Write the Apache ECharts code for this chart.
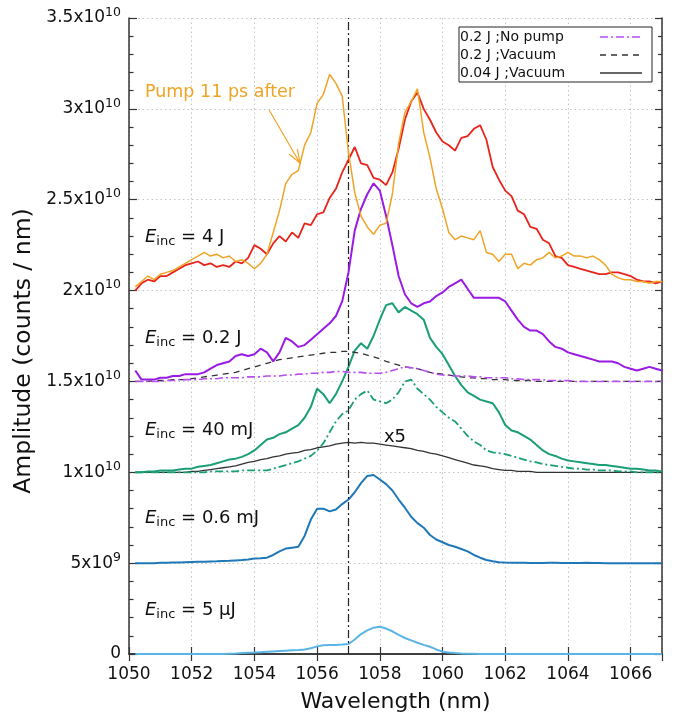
<!DOCTYPE html>
<html><head><meta charset="utf-8">
<script src="https://cdn.jsdelivr.net/npm/echarts@6/dist/echarts.min.js"></script>
<style>html,body{margin:0;padding:0;background:#fff}#c{width:678px;height:719px}</style>
</head><body><div id="c"></div>
<script>
// ---------------- data (amplitude values in units of 1e9 counts/nm) ----------------
const wavelength = [1050.2,1050.4,1050.6,1050.8,1051.0,1051.2,1051.4,1051.6,1051.8,1052.0,
1052.2,1052.4,1052.6,1052.8,1053.0,1053.2,1053.4,1053.6,1053.8,1054.0,
1054.2,1054.4,1054.6,1054.8,1055.0,1055.2,1055.4,1055.6,1055.8,1056.0,
1056.2,1056.4,1056.6,1056.8,1057.0,1057.2,1057.4,1057.6,1057.8,1058.0,
1058.2,1058.4,1058.6,1058.8,1059.0,1059.2,1059.4,1059.6,1059.8,1060.0,
1060.2,1060.4,1060.6,1060.8,1061.0,1061.2,1061.4,1061.6,1061.8,1062.0,
1062.2,1062.4,1062.6,1062.8,1063.0,1063.2,1063.4,1063.6,1063.8,1064.0,
1064.2,1064.4,1064.6,1064.8,1065.0,1065.2,1065.4,1065.6,1065.8,1066.0,
1066.2,1066.4,1066.6,1066.8,1067.0];

const pump11ps = [20.2,20.5,20.8,20.6,20.9,21.0,21.1,21.3,21.5,21.7,
21.9,22.1,21.9,22.0,21.8,21.9,21.6,21.7,21.5,21.2,
21.5,22.0,23.2,24.4,25.9,26.4,26.6,28.0,28.7,30.3,
30.8,31.9,31.4,30.7,27.6,25.4,24.1,23.5,23.1,23.6,
23.7,25.3,28.1,29.8,30.4,31.1,28.7,27.3,25.6,24.5,
23.2,22.8,23.0,22.9,22.8,23.3,22.1,22.0,21.6,22.0,
22.0,21.2,21.5,21.4,21.7,21.8,22.1,21.8,21.9,22.1,
21.9,21.9,21.8,21.9,21.7,21.4,20.9,20.7,20.6,20.6,
20.5,20.5,20.4,20.5,20.5];

const e4J = [20.0,20.4,20.6,20.5,20.8,20.8,21.0,21.2,21.4,21.5,
21.6,21.4,21.5,21.3,21.4,21.3,21.6,21.5,21.8,22.5,
22.3,22.0,22.6,23.0,22.7,23.2,22.9,23.7,23.6,24.2,
24.3,25.1,25.6,26.5,27.2,27.9,27.0,26.9,26.2,26.1,
25.8,26.5,27.8,29.4,30.4,30.9,30.0,29.4,28.7,28.2,
28.0,27.7,28.4,28.5,28.9,29.1,28.3,26.8,26.1,25.5,
25.2,24.4,24.2,23.5,23.4,22.8,22.6,21.9,21.8,21.4,
21.3,21.2,21.1,21.0,20.9,20.9,21.0,21.0,20.9,20.8,
20.6,20.5,20.5,20.4,20.5];

const e02J = [15.6,15.1,15.1,15.1,15.2,15.2,15.3,15.3,15.4,15.4,
15.4,15.5,15.7,15.9,16.0,16.1,16.4,16.5,16.4,16.5,
16.8,16.6,16.1,16.6,17.4,17.2,16.9,17.0,17.3,17.6,
17.9,18.2,18.6,19.4,21.0,23.3,24.5,25.3,25.9,25.5,
24.1,22.5,20.8,19.8,19.3,19.1,19.3,19.4,19.7,19.9,
20.2,20.4,20.6,20.1,19.6,19.6,19.6,19.6,19.6,19.4,
18.9,18.4,18.0,17.8,17.8,17.6,17.2,16.9,16.8,16.6,
16.5,16.4,16.3,16.2,16.1,16.1,16.1,16.0,15.8,15.7,
15.6,15.7,15.8,15.7,15.6];

const e02JNoPump = [15.0,15.0,15.0,15.0,15.0,15.05,15.05,15.1,15.1,15.1,
15.1,15.15,15.15,15.15,15.2,15.2,15.2,15.2,15.25,15.25,
15.25,15.3,15.3,15.3,15.35,15.35,15.4,15.4,15.45,15.45,
15.5,15.5,15.55,15.55,15.5,15.5,15.5,15.45,15.45,15.45,
15.5,15.6,15.7,15.8,15.75,15.7,15.6,15.5,15.4,15.35,
15.35,15.3,15.3,15.3,15.25,15.25,15.2,15.2,15.2,15.2,
15.15,15.15,15.1,15.1,15.1,15.1,15.05,15.05,15.05,15.05,
15.0,15.0,15.0,15.0,15.0,15.0,15.0,15.0,15.0,15.0,
15.0,15.0,15.0,15.0,15.0];

const e02JVacuum = [15.0,15.0,15.0,15.05,15.05,15.05,15.1,15.1,15.1,15.15,
15.2,15.25,15.3,15.35,15.4,15.45,15.5,15.6,15.7,15.8,
15.9,16.0,16.1,16.2,16.25,16.3,16.35,16.4,16.45,16.5,
16.55,16.6,16.6,16.65,16.65,16.6,16.55,16.45,16.35,16.25,
16.1,16.0,15.9,15.8,15.75,15.7,15.6,15.5,15.45,15.4,
15.35,15.3,15.25,15.2,15.2,15.15,15.15,15.1,15.1,15.1,
15.05,15.05,15.05,15.05,15.0,15.0,15.0,15.0,15.0,15.0,
15.0,15.0,15.0,15.0,15.0,15.0,15.0,15.0,15.0,15.0,
15.0,15.0,15.0,15.0,15.0];

const e40mJ = [10.0,10.0,10.05,10.05,10.1,10.1,10.1,10.15,10.2,10.2,
10.3,10.35,10.4,10.5,10.6,10.7,10.75,10.85,11.0,11.2,
11.5,11.8,11.9,12.1,12.2,12.4,12.6,13.0,13.6,14.6,
14.3,13.8,14.3,15.0,15.8,16.7,17.1,16.8,17.5,18.4,
19.2,19.3,18.8,19.1,18.9,18.7,18.4,17.4,16.9,16.5,
15.9,15.3,14.8,14.4,14.2,14.0,13.9,13.8,13.3,12.6,
12.3,12.2,12.0,11.8,11.5,11.2,11.0,10.9,10.75,10.65,
10.6,10.55,10.5,10.45,10.4,10.4,10.35,10.3,10.25,10.2,
10.2,10.15,10.1,10.1,10.05];

const e40mJNoPump = [10.0,10.0,10.0,10.0,10.0,10.0,10.0,10.0,10.0,10.0,
10.0,10.0,10.05,10.05,10.05,10.05,10.05,10.1,10.1,10.1,
10.1,10.1,10.2,10.3,10.4,10.5,10.6,10.75,10.9,11.2,
11.6,12.2,12.8,13.2,13.4,14.0,14.3,14.5,14.0,13.9,
13.8,14.0,14.4,15.0,15.1,14.6,14.3,14.0,13.6,13.3,
13.0,12.8,12.4,12.0,11.7,11.5,11.2,11.1,11.05,11.0,
10.9,10.8,10.7,10.6,10.55,10.45,10.4,10.35,10.3,10.25,
10.2,10.2,10.15,10.15,10.1,10.1,10.1,10.05,10.05,10.05,
10.0,10.0,10.0,10.0,10.0];

const e004JVacuumX5 = [10.0,10.0,10.0,10.0,10.0,10.0,10.0,10.0,10.0,10.05,
10.05,10.1,10.15,10.2,10.25,10.3,10.35,10.45,10.55,10.6,
10.7,10.75,10.85,10.9,11.0,11.05,11.1,11.2,11.25,11.35,
11.4,11.45,11.55,11.6,11.65,11.6,11.65,11.6,11.6,11.55,
11.5,11.45,11.4,11.35,11.3,11.2,11.15,11.05,11.0,10.9,
10.8,10.7,10.6,10.5,10.4,10.35,10.3,10.2,10.15,10.1,
10.1,10.05,10.05,10.05,10.0,10.0,10.0,10.0,10.0,10.0,
10.0,10.0,10.0,10.0,10.0,10.0,10.0,10.0,10.0,10.0,
10.0,10.0,10.0,10.0,10.0];

const e06mJ = [5.0,5.0,5.0,5.0,5.02,5.02,5.03,5.04,5.05,5.06,
5.07,5.08,5.09,5.1,5.12,5.13,5.15,5.17,5.2,5.25,
5.27,5.3,5.45,5.65,5.8,5.85,5.9,6.5,7.4,8.0,
8.0,7.85,7.95,8.25,8.5,8.9,9.4,9.8,9.85,9.6,
9.35,9.0,8.5,8.05,7.55,7.2,6.95,6.55,6.3,6.15,
6.0,5.9,5.78,5.65,5.45,5.3,5.17,5.1,5.05,5.03,
5.02,5.02,5.02,5.01,5.01,5.01,5.02,5.02,5.01,5.01,
5.01,5.01,5.02,5.01,5.01,5.0,5.0,5.0,5.0,5.0,
5.0,5.0,5.0,5.0,5.0];

const e5uJ = [0.0,0.0,0.0,0.0,0.0,0.0,0.0,0.0,0.0,0.0,
0.0,0.0,0.0,0.0,0.0,0.02,0.03,0.05,0.07,0.08,
0.1,0.12,0.14,0.16,0.18,0.2,0.22,0.25,0.32,0.42,
0.48,0.5,0.5,0.52,0.55,0.8,1.1,1.3,1.45,1.5,
1.4,1.25,1.05,0.88,0.75,0.62,0.5,0.4,0.25,0.13,
0.08,0.05,0.03,0.02,0.01,0,0,0,0,0,
0,0,0,0,0,0,0,0,0,0,
0,0,0,0,0,0,0,0,0,0,
0,0,0,0,0];

const referenceWavelength = 1057;
const yTickValues = [0, 5, 10, 15, 20, 25, 30, 35];
const yTickLabels = ['0', '5x10^9', '1x10^10', '1.5x10^10', '2x10^10', '2.5x10^10', '3x10^10', '3.5x10^10'];
const legendNames = ['0.2 J ;No pump', '0.2 J ;Vacuum', '0.04 J ;Vacuum'];
const energyLabels = ['4 J', '0.2 J', '40 mJ', '0.6 mJ', '5 μJ'];
const energyLabelY = [22.95, 17.36, 12.33, 7.46, 2.42];
const energyLabelX = 1050.51;
const pumpLabel = {text: 'Pump 11 ps after', x: 1050.51, y: 30.9};
const pumpArrow = {from: [1054.47, 29.94], to: [1055.45, 27.02]};
const x5Label = {text: 'x5', x: 1058.13, y: 11.94};

// ---------------- chart ----------------
const FONT = 'DejaVu Sans';
const chart = echarts.init(document.getElementById('c'), null, {renderer: 'canvas'});

function lineSeries(name, values, color, width, type, z) {
  return {
    name, type: 'line', z,
    data: wavelength.map((x, i) => [x, values[i]]),
    symbol: 'none', showSymbol: false, silent: true, animation: false,
    lineStyle: {color, width, type},
    itemStyle: {color},
    emphasis: {disabled: true}
  };
}

const COL = {
  orange: '#EFA425', red: '#E8241B', purple: '#9A1BE3', purpleDD: '#B84DF0',
  black: '#333333', green: '#1A9E76', blue: '#1E78B8', lightBlue: '#5AB4E6'
};
const DASHDOT = [8, 3, 2, 3];
const DASHED = [6, 5];

const series = [
  lineSeries('5 uJ', e5uJ, COL.lightBlue, 2, 'solid', 2),
  lineSeries('0.6 mJ', e06mJ, COL.blue, 2, 'solid', 2),
  lineSeries('0.04 J ;Vacuum', e004JVacuumX5, COL.black, 1.3, 'solid', 3),
  lineSeries('40 mJ no pump', e40mJNoPump, COL.green, 1.8, DASHDOT, 3),
  lineSeries('40 mJ', e40mJ, COL.green, 2, 'solid', 4),
  lineSeries('0.2 J ;Vacuum', e02JVacuum, COL.black, 1.3, DASHED, 4),
  lineSeries('0.2 J ;No pump', e02JNoPump, COL.purpleDD, 1.6, DASHDOT, 4),
  lineSeries('0.2 J', e02J, COL.purple, 2, 'solid', 5),
  lineSeries('4 J, pump 11 ps after', pump11ps, COL.orange, 1.5, 'solid', 6),
  lineSeries('4 J', e4J, COL.red, 1.8, 'solid', 5)
];
series[0].markLine = {
  silent: true, animation: false, symbol: ['none', 'none'],
  label: {show: false},
  lineStyle: {color: '#222', width: 1.2, type: DASHDOT},
  data: [{xAxis: referenceWavelength}]
};

function yLabel(v) {
  const idx = yTickValues.indexOf(Math.round(v));
  if (idx < 0) return '';
  const s = yTickLabels[idx];
  if (s.indexOf('^') < 0) return '{b|' + s + '}';
  const parts = s.split('^');
  return '{b|' + parts[0] + '}{s|' + parts[1] + '}';
}

const axisLineStyle = {color: '#333', width: 1.5};
const tickStyle = {color: '#333', width: 1.2};
const gridLine = {show: true, lineStyle: {color: '#c4c4c4', width: 1, type: [1.5, 3]}};

const option = {
  backgroundColor: '#fff',
  animation: false,
  grid: {left: 129, right: 16, top: 18, bottom: 65},
  xAxis: [{
    type: 'value', position: 'bottom', min: 1050, max: 1067, interval: 2,
    axisLine: {show: true, lineStyle: axisLineStyle},
    axisTick: {show: true, inside: true, length: 7, lineStyle: tickStyle},
    axisLabel: {fontFamily: FONT, fontSize: 17, color: '#111', margin: 12, showMaxLabel: false,
      formatter: v => String(v)},
    splitLine: gridLine,
    name: 'Wavelength (nm)', nameLocation: 'middle', nameGap: 37,
    nameTextStyle: {fontFamily: FONT, fontSize: 22, color: '#111'}
  }, {
    type: 'value', position: 'top', min: 1050, max: 1067, interval: 2,
    axisLine: {show: true, lineStyle: axisLineStyle},
    axisTick: {show: true, inside: true, length: 7, lineStyle: tickStyle},
    axisLabel: {show: false}, splitLine: {show: false}
  }],
  yAxis: [{
    type: 'value', position: 'left', min: 0, max: 35, interval: 5,
    axisLine: {show: true, lineStyle: axisLineStyle},
    axisTick: {show: true, inside: true, length: 8, lineStyle: tickStyle},
    minorTick: {show: true, splitNumber: 5, length: 4.5, lineStyle: tickStyle},
    axisLabel: {
      margin: 8, formatter: yLabel,
      rich: {
        b: {fontFamily: FONT, fontSize: 17, color: '#111'},
        s: {fontFamily: FONT, fontSize: 12.5, color: '#111', padding: [0, 0, 11, 0]}
      }
    },
    splitLine: gridLine,
    name: 'Amplitude (counts / nm)', nameLocation: 'middle', nameGap: 92,
    nameTextStyle: {fontFamily: FONT, fontSize: 23.5, color: '#111', padding: [0, 30, 0, 0]}
  }, {
    type: 'value', position: 'right', min: 0, max: 35, interval: 5,
    axisLine: {show: true, lineStyle: axisLineStyle},
    axisTick: {show: true, inside: true, length: 7, lineStyle: tickStyle},
    minorTick: {show: true, splitNumber: 5, length: 4, lineStyle: tickStyle},
    axisLabel: {show: false}, splitLine: {show: false}
  }],
  series
};
chart.setOption(option);

// ---------------- annotations placed through the axes ----------------
const P = (x, y) => chart.convertToPixel({xAxisIndex: 0, yAxisIndex: 0}, [x, y]);
const graphics = [];
energyLabels.forEach((t, i) => {
  const p = P(energyLabelX, energyLabelY[i]);
  graphics.push({
    type: 'text', x: p[0], y: p[1], z: 50, silent: true,
    style: {
      text: '{e|E}{s|inc}{t| = ' + t + '}',
      align: 'left', verticalAlign: 'middle', fill: '#111',
      rich: {
        e: {fontFamily: FONT, fontSize: 18, fontStyle: 'italic', fill: '#111'},
        s: {fontFamily: FONT, fontSize: 13, fill: '#111', padding: [9, 0, 0, 0]},
        t: {fontFamily: FONT, fontSize: 18, fill: '#111'}
      }
    }
  });
});
const pp = P(pumpLabel.x, pumpLabel.y);
graphics.push({type: 'text', x: pp[0], y: pp[1], z: 50, silent: true,
  style: {text: pumpLabel.text, fontFamily: FONT, fontSize: 17.5, fill: COL.orange, align: 'left', verticalAlign: 'middle'}});
const a0 = P(pumpArrow.from[0], pumpArrow.from[1]);
const a1 = P(pumpArrow.to[0], pumpArrow.to[1]);
const dx = a1[0] - a0[0], dy = a1[1] - a0[1];
const len = Math.hypot(dx, dy);
const ux = -dx / len, uy = -dy / len;
const head = 14, ang = 20 * Math.PI / 180;
const arm = s => [a1[0] + head * (ux * Math.cos(s * ang) - uy * Math.sin(s * ang)),
                  a1[1] + head * (ux * Math.sin(s * ang) + uy * Math.cos(s * ang))];
graphics.push({type: 'line', z: 50, silent: true, shape: {x1: a0[0], y1: a0[1], x2: a1[0], y2: a1[1]},
  style: {stroke: COL.orange, lineWidth: 1.2}});
graphics.push({type: 'polyline', z: 50, silent: true, shape: {points: [arm(1), a1, arm(-1)]},
  style: {stroke: COL.orange, lineWidth: 1.2, fill: null}});
const xp = P(x5Label.x, x5Label.y);
graphics.push({type: 'text', x: xp[0], y: xp[1], z: 50, silent: true,
  style: {text: x5Label.text, fontFamily: FONT, fontSize: 18, fill: '#111', align: 'left', verticalAlign: 'middle'}});

// key box (gnuplot style: text left, line sample right), styles taken from the series
const legendStyles = legendNames.map(n => series.find(s => s.name === n).lineStyle);
const box = {x: 459, y: 27, w: 193, h: 55, row: 18, sampleX0: 600, sampleX1: 642};
graphics.push({type: 'rect', z: 60, silent: true, shape: {x: box.x, y: box.y, width: box.w, height: box.h},
  style: {fill: '#fff', stroke: '#222', lineWidth: 1}});
legendNames.forEach((n, i) => {
  const cy = box.y + 10 + i * box.row;
  graphics.push({type: 'text', z: 61, silent: true, x: box.x + 1, y: cy,
    style: {text: n, fontFamily: FONT, fontSize: 14, fill: '#111', align: 'left', verticalAlign: 'middle'}});
  const ls = legendStyles[i];
  graphics.push({type: 'line', z: 61, silent: true,
    shape: {x1: box.sampleX0, y1: cy, x2: box.sampleX1, y2: cy},
    style: {stroke: ls.color, lineWidth: ls.width, lineDash: Array.isArray(ls.type) ? ls.type : null}});
});
chart.setOption({graphic: graphics});
</script>
</body></html>
